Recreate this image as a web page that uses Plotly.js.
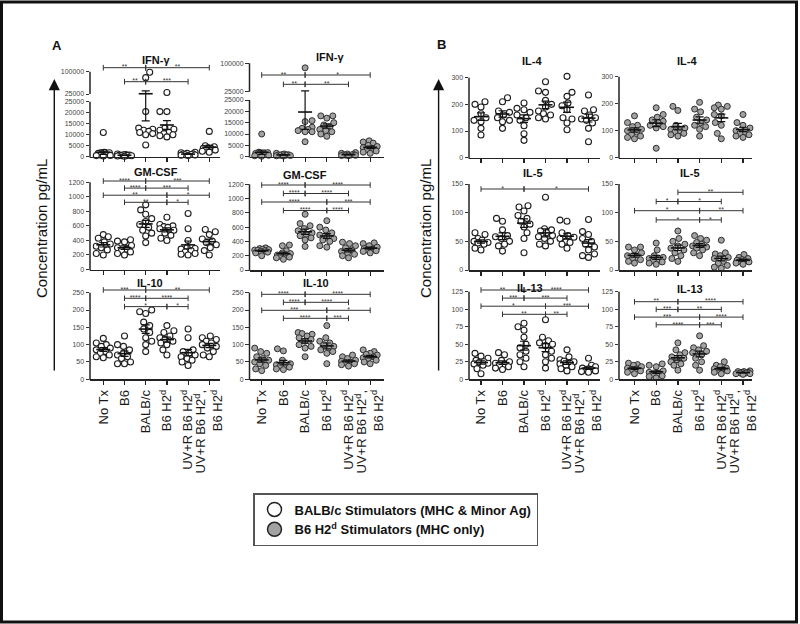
<!DOCTYPE html>
<html>
<head>
<meta charset="utf-8">
<script src="https://cdn.plot.ly/plotly-3.0.1.min.js"></script>
<style>
  html, body { margin: 0; padding: 0; background: #fff; }
  #chart { width: 800px; height: 624px; }
</style>
</head>
<body>
<div id="chart"></div>
<script>
const W = 800, H = 624;
const FONT = 'Liberation Sans, Arial, Helvetica, sans-serif';

// x categories
const groups = [
	'No Tx',
	'B6',
	'BALB/c',
	'B6 H2<sup>d</sup>',
	'UV+R B6 H2<sup>d</sup>',
	'UV+R B6 H2<sup>d</sup>,<br>B6 H2<sup>d</sup>',
];

/**
 * Values (pg/mL), one list per group
 * ...Balb = BALB/c stimulators (open), ...B6 = B6 H2d stimulators (grey)
 */
const ifnBalb = [
	[11000, 2000, 1800, 1500, 1200, 1000, 800, 600, 500, 300],
	[1200, 1000, 900, 800, 700, 600, 500, 400, 300, 200],
	[98000, 80000, 20500, 13000, 12500, 12000, 11500, 11000, 10500, 10000, 5300],
	[30000, 20500, 20500, 13000, 12500, 12000, 11000, 10500, 10000, 9500, 9000],
	[2000, 1800, 1500, 1300, 1200, 1000, 900, 800, 700, 500],
	[11500, 5000, 4500, 4000, 3800, 3500, 3200, 3000, 2500, 2000],
];
const ifnB6 = [
	[10000, 2000, 1800, 1500, 1200, 1000, 800, 600, 400, 200],
	[1500, 1200, 1000, 900, 800, 700, 600, 500, 400, 300],
	[88000, 15900, 15500, 13000, 12500, 12000, 11500, 11000, 11000, 6600],
	[18000, 18000, 17000, 15000, 14000, 13000, 12000, 11500, 11000, 10000, 9000],
	[1800, 1500, 1200, 1000, 900, 800, 700, 600, 500, 400],
	[7000, 6500, 6000, 5000, 4500, 4000, 3500, 3000, 2500, 2000, 1500],
];
const gmBalb = [
	[480, 450, 430, 380, 350, 320, 300, 270, 220, 200],
	[410, 390, 380, 330, 300, 280, 260, 240, 220, 200],
	[890, 820, 760, 700, 660, 620, 580, 540, 500, 460, 370],
	[720, 620, 600, 590, 580, 560, 540, 500, 470, 430, 400],
	[770, 560, 400, 300, 290, 280, 260, 240, 220, 210, 200],
	[550, 520, 480, 420, 390, 370, 340, 300, 260, 200],
];
const gmB6 = [
	[310, 300, 290, 285, 280, 275, 270, 260, 250, 240, 200],
	[350, 340, 270, 240, 230, 210, 200, 190, 180, 170, 150],
	[780, 650, 620, 580, 550, 520, 500, 480, 450, 420, 330],
	[690, 600, 560, 520, 490, 460, 440, 420, 400, 340, 320],
	[390, 370, 340, 310, 280, 260, 240, 220, 200, 170],
	[380, 370, 340, 320, 300, 290, 280, 270, 260, 240],
];
const il10Balb = [
	[118, 105, 100, 95, 90, 85, 80, 75, 70, 65, 62],
	[125, 100, 95, 85, 75, 70, 65, 60, 50, 45, 45],
	[200, 195, 190, 165, 155, 145, 135, 120, 110, 100, 80],
	[155, 140, 135, 125, 120, 115, 110, 105, 100, 85, 70],
	[145, 120, 85, 80, 75, 70, 65, 60, 55, 50, 40],
	[125, 120, 115, 110, 105, 100, 95, 90, 80, 70, 65],
];
const il10B6 = [
	[90, 80, 75, 65, 60, 55, 50, 45, 40, 30, 25],
	[88, 82, 55, 45, 42, 40, 38, 35, 30, 28],
	[135, 132, 130, 125, 120, 115, 110, 100, 95, 90, 65],
	[155, 120, 110, 105, 100, 95, 90, 85, 80, 75, 45],
	[70, 65, 60, 55, 52, 50, 48, 45, 42, 38],
	[85, 80, 75, 72, 70, 65, 62, 60, 55, 50, 45],
];
const il4Balb = [
	[210, 200, 190, 165, 150, 140, 135, 110, 85],
	[225, 210, 175, 170, 160, 150, 140, 135, 110],
	[205, 185, 180, 170, 160, 150, 140, 120, 90, 65],
	[285, 250, 245, 215, 200, 190, 175, 165, 160, 150, 145],
	[305, 245, 230, 205, 195, 180, 150, 145, 130, 105],
	[235, 180, 175, 160, 150, 145, 140, 130, 110, 60],
];
const il4B6 = [
	[155, 130, 120, 115, 105, 100, 95, 85, 80, 75, 70],
	[185, 160, 150, 140, 135, 130, 120, 115, 110, 35],
	[190, 175, 120, 110, 105, 100, 95, 90, 85, 80],
	[205, 180, 170, 150, 140, 130, 120, 115, 105, 80],
	[195, 190, 185, 180, 160, 155, 130, 120, 90, 70],
	[160, 130, 120, 110, 100, 95, 90, 85, 80, 75],
];
const il5Balb = [
	[65, 62, 55, 52, 50, 48, 47, 45, 38, 35],
	[90, 85, 70, 60, 58, 55, 50, 45, 42, 33],
	[112, 110, 103, 95, 90, 85, 80, 75, 65, 55, 30],
	[127, 72, 70, 68, 65, 60, 58, 55, 50, 45, 42],
	[87, 85, 65, 60, 57, 55, 50, 48, 45, 38],
	[88, 67, 62, 55, 50, 45, 40, 35, 28, 25, 22],
];
const il5B6 = [
	[40, 40, 35, 30, 25, 22, 20, 18, 15, 12],
	[47, 35, 25, 22, 20, 18, 16, 14, 12, 10],
	[68, 55, 50, 45, 42, 38, 35, 30, 25, 20, 15],
	[60, 55, 52, 48, 45, 42, 40, 38, 35, 30, 25],
	[52, 30, 28, 25, 22, 20, 15, 12, 8, 5, 3],
	[27, 22, 20, 18, 17, 16, 15, 14, 12, 10],
];
const il13Balb = [
	[37, 33, 30, 27, 25, 24, 23, 22, 20, 15, 8],
	[38, 35, 27, 25, 23, 21, 20, 18, 16, 14],
	[80, 75, 70, 60, 50, 45, 40, 35, 30, 25, 18],
	[85, 60, 55, 52, 50, 48, 40, 35, 30, 25, 16],
	[42, 32, 28, 26, 25, 23, 22, 20, 18, 15, 12],
	[30, 20, 18, 16, 15, 14, 13, 12, 11, 10],
];
const il13B6 = [
	[23, 21, 20, 18, 16, 15, 14, 12, 10, 8],
	[22, 20, 18, 12, 10, 8, 6, 5, 4, 2],
	[52, 42, 38, 35, 32, 30, 28, 25, 22, 20, 13],
	[62, 48, 45, 42, 40, 38, 35, 30, 25, 20, 13],
	[25, 20, 18, 16, 15, 14, 13, 12, 10, 8],
	[12, 11, 11, 10, 10, 9, 9, 8, 8, 7],
];

/**
 * Significance brackets: [group A, group B, stars, tier (0 = top row)]
 */
const ifnBalbSig = [[0, 2, '**', 0], [2, 5, '**', 0], [1, 2, '**', 1], [2, 4, '***', 1]];
const ifnB6Sig = [[0, 2, '**', 0], [2, 5, '*', 0], [1, 2, '**', 1], [2, 4, '**', 1]];
const gmBalbSig = [[0, 2, '****', 0], [2, 5, '***', 0], [1, 2, '****', 1], [2, 4, '***', 1],
	[0, 3, '**', 2], [3, 5, '*', 2], [1, 3, '**', 3], [3, 4, '*', 3]];
const gmB6Sig = [[0, 2, '****', 0], [2, 5, '****', 0], [1, 2, '****', 1], [2, 4, '****', 1],
	[0, 3, '****', 2], [3, 5, '***', 2], [1, 3, '****', 3], [3, 4, '****', 3]];
const il10BalbSig = [[0, 2, '***', 0], [2, 5, '**', 0], [1, 2, '****', 1], [2, 4, '****', 1],
	[1, 3, '*', 2], [3, 4, '*', 2]];
const il10B6Sig = [[0, 2, '****', 0], [2, 5, '****', 0], [1, 2, '****', 1], [2, 4, '****', 1],
	[0, 3, '***', 2], [3, 5, '*', 2], [1, 3, '****', 3], [3, 4, '***', 3]];
const il5BalbSig = [[0, 2, '*', 0], [2, 5, '*', 0]];
const il5B6Sig = [[2, 5, '**', 0], [1, 2, '*', 1], [2, 4, '*', 1],
	[0, 3, '*', 2], [3, 5, '**', 2], [1, 3, '*', 3], [3, 4, '*', 3]];
const il13BalbSig = [[0, 2, '**', 0], [2, 5, '****', 0], [1, 2, '***', 1], [2, 4, '***', 1],
	[0, 3, '*', 2], [3, 5, '***', 2], [1, 3, '**', 3], [3, 4, '**', 3]];
const il13B6Sig = [[0, 2, '**', 0], [2, 5, '****', 0], [1, 2, '***', 1], [2, 4, '**', 1],
	[0, 3, '***', 2], [3, 5, '****', 2], [1, 3, '****', 3], [3, 4, '***', 3]];

// legend labels
const stimNames = {
	balb: 'BALB/c Stimulators (MHC & Minor Ag)',
	b6: 'B6 H2<sup>d</sup> Stimulators (MHC only)',
};

/**
 * Layout geometry in screen pixels (x from left, y from top)
 */
const cols = [
	{ xL: 90, x0: 103.3, dx: 21.2, xR: 220 },
	{ xL: 249.5, x0: 261.7, dx: 21.7, xR: 384 },
	{ xL: 469, x0: 481, dx: 21.5, xR: 600 },
	{ xL: 619, x0: 634.5, dx: 21.7, xR: 752 },
];

const panels = [
	{ title: 'IFN-γ', vals: ifnBalb, sig: ifnBalbSig, stim: 'balb', col: 0, row: 0,
		base: 156.7, topPx: 101.7, topVal: 25000, step: 5000, domTop: 63,
		brk: { gapPx: 7.7, maxVal: 100000, maxPx: 71.7 },
		brTop: 67.7, brGap: 14, tx: 156, ty: 60.5 },
	{ title: 'IFN-γ', vals: ifnB6, sig: ifnB6Sig, stim: 'b6', col: 1, row: 0,
		base: 156.7, topPx: 100, topVal: 25000, step: 5000, domTop: 60,
		brk: { gapPx: 8.3, maxVal: 100000, maxPx: 63.3 },
		brTop: 75, brGap: 9.3, tx: 330, ty: 56.7 },
	{ title: 'IL-4', vals: il4Balb, sig: [], stim: 'balb', col: 2, row: 0,
		base: 157.7, topPx: 77.7, topVal: 300, step: 100, domTop: 72,
		brTop: 0, brGap: 0, tx: 532, ty: 61 },
	{ title: 'IL-4', vals: il4B6, sig: [], stim: 'b6', col: 3, row: 0,
		base: 157.7, topPx: 76.7, topVal: 300, step: 100, domTop: 72,
		brTop: 0, brGap: 0, tx: 687, ty: 61 },

	{ title: 'GM-CSF', vals: gmBalb, sig: gmBalbSig, stim: 'balb', col: 0, row: 1,
		base: 269.5, topPx: 182.3, topVal: 1200, step: 200, domTop: 178,
		brTop: 181, brGap: 7.1, tx: 156, ty: 171.5 },
	{ title: 'GM-CSF', vals: gmB6, sig: gmB6Sig, stim: 'b6', col: 1, row: 1,
		base: 270, topPx: 184.3, topVal: 1200, step: 200, domTop: 181,
		brTop: 185, brGap: 8.5, tx: 305, ty: 175 },
	{ title: 'IL-5', vals: il5Balb, sig: il5BalbSig, stim: 'balb', col: 2, row: 1,
		base: 270, topPx: 184, topVal: 150, step: 50, domTop: 181,
		brTop: 189, brGap: 9, tx: 533, ty: 173.3 },
	{ title: 'IL-5', vals: il5B6, sig: il5B6Sig, stim: 'b6', col: 3, row: 1,
		base: 270, topPx: 184, topVal: 150, step: 50, domTop: 181,
		brTop: 192.3, brGap: 9.2, tx: 690, ty: 173.3 },

	{ title: 'IL-10', vals: il10Balb, sig: il10BalbSig, stim: 'balb', col: 0, row: 2,
		base: 379.3, topPx: 292.7, topVal: 250, step: 50, domTop: 287,
		brTop: 290, brGap: 8.3, tx: 150, ty: 282.5 },
	{ title: 'IL-10', vals: il10B6, sig: il10B6Sig, stim: 'b6', col: 1, row: 2,
		base: 379.3, topPx: 292.7, topVal: 250, step: 50, domTop: 289,
		brTop: 294.3, brGap: 8, tx: 316, ty: 283.3 },
	{ title: 'IL-13', vals: il13Balb, sig: il13BalbSig, stim: 'balb', col: 2, row: 2,
		base: 379.3, topPx: 291.7, topVal: 125, step: 25, domTop: 287,
		brTop: 290, brGap: 8.1, tx: 530, ty: 288 },
	{ title: 'IL-13', vals: il13B6, sig: il13B6Sig, stim: 'b6', col: 3, row: 2,
		base: 379.3, topPx: 291.7, topVal: 125, step: 25, domTop: 288,
		brTop: 301.7, brGap: 7.7, tx: 690, ty: 289 },
];

const markerStyle = {
	balb: { color: '#ffffff', size: 6, line: { color: '#1e1e1e', width: 1.1 } },
	b6: { color: '#a2a2a2', size: 6, line: { color: '#2e2e2e', width: 1 } },
};

const px = p => p / W;
const py = p => 1 - p / H;

const mean = a => a.reduce((s, v) => s + v, 0) / a.length;
const sem = a => {
	const m = mean(a);
	return Math.sqrt(a.reduce((s, v) => s + (v - m) * (v - m), 0) / (a.length - 1) / a.length);
};

/**
 * Broken axis (IFN-γ): values above the break are squeezed into the upper segment
 */
function makeTransform( p, ppu ){
	if( !p.brk ) return v => v;
	const at = p.topVal;
	const gap = p.brk.gapPx / ppu;
	const k = ((p.topPx - p.brk.gapPx - p.brk.maxPx) / ppu) / (p.brk.maxVal - at);
	return v => v <= at ? v : at + gap + (v - at) * k;
}

/**
 * Simple beeswarm so the dots of one group do not sit on top of each other
 */
function swarm( vals, tf, ppu, dx ){
	const diam = 6.2, maxOff = 7;
	const placed = [];
	const offs = new Array(vals.length);
	const order = vals.map(( v, i ) => i).sort(( a, b ) => vals[a] - vals[b]);
	order.forEach(( i, n ) => {
		const yPx = tf(vals[i]) * ppu;
		const sign = n % 2 ? -1 : 1;
		const cands = [0];
		for( let s = 1; s <= maxOff; s++ ) cands.push(sign * s, -sign * s);
		let best = 0, bestD = -1;
		for( const o of cands ){
			let md = Infinity;
			placed.forEach(q => { md = Math.min(md, Math.hypot(o - q[0], yPx - q[1])); });
			if( md >= diam ){ best = o; break; }
			if( md > bestD ){ bestD = md; best = o; }
		}
		placed.push([best, yPx]);
		offs[i] = best / dx;
	});
	return offs;
}

const data = [];
const layout = {
	width: W,
	height: H,
	margin: { l: 0, r: 0, t: 0, b: 0 },
	paper_bgcolor: '#ffffff',
	plot_bgcolor: 'rgba(0,0,0,0)',
	font: { family: FONT, color: '#1a1a1a' },
	hovermode: false,
	showlegend: true,
	legend: {
		x: px(253), y: py(493), xanchor: 'left', yanchor: 'top',
		bordercolor: '#555555', borderwidth: 1.5, bgcolor: '#ffffff',
		font: { family: FONT, size: 13, color: '#111111', weight: 'bold' },
		itemsizing: 'trace', tracegroupgap: 2,
	},
	shapes: [],
	annotations: [],
};

panels.forEach(( p, i ) => {
	const n = i + 1;
	const sfx = n === 1 ? '' : n;
	const c = cols[p.col];
	const ppu = (p.base - p.topPx) / p.topVal;
	const tf = makeTransform(p, ppu);
	const xName = 'x' + sfx, yName = 'y' + sfx;

	// y ticks
	const tickvals = [], ticktext = [];
	for( let v = 0; v <= p.topVal + 1e-9; v += p.step ){
		tickvals.push(v);
		ticktext.push(String(v));
	}
	if( p.brk ){
		tickvals.push(p.topVal + p.brk.gapPx / ppu, tf(p.brk.maxVal));
		ticktext.push(String(p.topVal), String(p.brk.maxVal));
	}

	layout['xaxis' + sfx] = {
		domain: [ px(c.xL), px(c.xR) ],
		range: [ (c.xL - c.x0) / c.dx, (c.xR - c.x0) / c.dx ],
		anchor: yName,
		tickmode: 'array',
		tickvals: groups.map(( g, j ) => j),
		ticktext: groups,
		showticklabels: p.row === 2,
		tickangle: -90,
		tickfont: { family: FONT, size: 13, color: '#1a1a1a' },
		ticks: 'outside', ticklen: 4, tickwidth: 1.2, tickcolor: '#222222',
		showline: true, linecolor: '#222222', linewidth: 1.5,
		showgrid: false, zeroline: false, fixedrange: true,
	};
	layout['yaxis' + sfx] = {
		domain: [ py(p.base), py(p.domTop) ],
		range: [ 0, (p.base - p.domTop) / ppu ],
		anchor: xName,
		tickmode: 'array',
		tickvals: tickvals,
		ticktext: ticktext,
		tickfont: { family: FONT, size: 7, color: '#444444' },
		ticks: 'outside', ticklen: 3.5, tickwidth: 1, tickcolor: '#333333',
		showline: false, showgrid: false, zeroline: false, fixedrange: true,
	};

	// y axis line (drawn by hand so it stops at the top tick and can break)
	const yLine = { type: 'line', xref: 'paper', yref: 'paper', line: { color: '#222222', width: 1.5 } };
	layout.shapes.push(Object.assign({}, yLine, { x0: px(c.xL), x1: px(c.xL), y0: py(p.base + 0.75), y1: py(p.topPx) }));
	if( p.brk ){
		layout.shapes.push(Object.assign({}, yLine, {
			x0: px(c.xL), x1: px(c.xL), y0: py(p.topPx - p.brk.gapPx), y1: py(p.brk.maxPx),
		}));
	}

	// dots
	const xs = [], ys = [];
	p.vals.forEach(( g, j ) => {
		const offs = swarm(g, tf, ppu, c.dx);
		g.forEach(( v, k ) => {
			xs.push(j + offs[k]);
			ys.push(tf(v));
		});
	});
	data.push({
		type: 'scatter', mode: 'markers',
		x: xs, y: ys, xaxis: xName, yaxis: yName,
		marker: markerStyle[p.stim],
		cliponaxis: false, showlegend: false, hoverinfo: 'skip',
	});

	// mean ± SEM
	const means = p.vals.map(mean);
	const sems = p.vals.map(sem);
	data.push({
		type: 'scatter', mode: 'markers',
		x: means.map(( m, j ) => j),
		y: means.map(tf),
		xaxis: xName, yaxis: yName,
		marker: { symbol: 'line-ew', size: 10, color: '#111111', line: { color: '#111111', width: 1.6 } },
		error_y: {
			type: 'data', symmetric: false,
			array: means.map(( m, j ) => tf(m + sems[j]) - tf(m)),
			arrayminus: means.map(( m, j ) => tf(m) - tf(Math.max(0, m - sems[j]))),
			color: '#111111', thickness: 1.2, width: 4,
		},
		cliponaxis: false, showlegend: false, hoverinfo: 'skip',
	});

	// significance brackets
	if( p.sig.length ){
		const levelY = tier => (p.base - (p.brTop + tier * p.brGap)) / ppu;
		const bx = [], by = [];
		p.sig.forEach(s => {
			bx.push(s[0], s[1], null);
			by.push(levelY(s[3]), levelY(s[3]), null);
		});
		data.push({
			type: 'scatter', mode: 'lines+markers',
			x: bx, y: by, xaxis: xName, yaxis: yName,
			line: { color: '#333333', width: 1 },
			marker: { symbol: 'line-ns', size: 4, color: '#333333', line: { color: '#333333', width: 1 } },
			connectgaps: false, cliponaxis: false, showlegend: false, hoverinfo: 'skip',
		});
		data.push({
			type: 'scatter', mode: 'text',
			x: p.sig.map(s => (s[0] + s[1]) / 2),
			y: p.sig.map(s => levelY(s[3])),
			text: p.sig.map(s => s[2]),
			textposition: 'middle center',
			textfont: { family: FONT, size: 7, color: '#333333' },
			xaxis: xName, yaxis: yName,
			cliponaxis: false, showlegend: false, hoverinfo: 'skip',
		});
	}

	// panel title
	layout.annotations.push({
		xref: 'paper', yref: 'paper', x: px(p.tx), y: py(p.ty),
		xanchor: 'center', yanchor: 'middle', showarrow: false,
		text: '<b>' + p.title + '</b>',
		font: { family: FONT, size: 11, color: '#111111' },
	});
});

// legend entries
[ 'balb', 'b6' ].forEach(k => {
	data.push({
		type: 'scatter', mode: 'markers',
		x: [ null ], y: [ null ],
		name: stimNames[k],
		marker: Object.assign({}, markerStyle[k], { size: 14, line: { color: '#222222', width: 1.5 } }),
		hoverinfo: 'skip',
	});
});

// panel letters, y titles and arrows
[
	{ letter: 'A', lx: 57.5, ly: 46, tx: 41, arrowX: 54.3 },
	{ letter: 'B', lx: 441.5, ly: 45, tx: 425, arrowX: 438.6 },
].forEach(s => {
	layout.annotations.push({
		xref: 'paper', yref: 'paper', x: px(s.lx), y: py(s.ly),
		xanchor: 'center', yanchor: 'middle', showarrow: false,
		text: '<b>' + s.letter + '</b>',
		font: { family: FONT, size: 13, color: '#111111' },
	});
	layout.annotations.push({
		xref: 'paper', yref: 'paper', x: px(s.tx), y: py(229),
		xanchor: 'center', yanchor: 'middle', showarrow: false, textangle: -90,
		text: 'Concentration pg/mL',
		font: { family: FONT, size: 15, color: '#111111' },
	});
	layout.annotations.push({
		xref: 'paper', yref: 'paper', x: px(s.arrowX), y: py(79),
		ax: 0, ay: 372 - 79, text: '', showarrow: true,
		arrowhead: 2, arrowsize: 1.6, arrowwidth: 1.4, arrowcolor: '#111111', standoff: 0,
	});
});

// outer frame
layout.shapes.push({
	type: 'rect', xref: 'paper', yref: 'paper',
	x0: px(1.5), x1: px(796.5), y0: py(2), y1: py(622),
	line: { color: '#111111', width: 3 },
});

Plotly.newPlot('chart', data, layout, { displayModeBar: false, staticPlot: true });
</script>
</body>
</html>
